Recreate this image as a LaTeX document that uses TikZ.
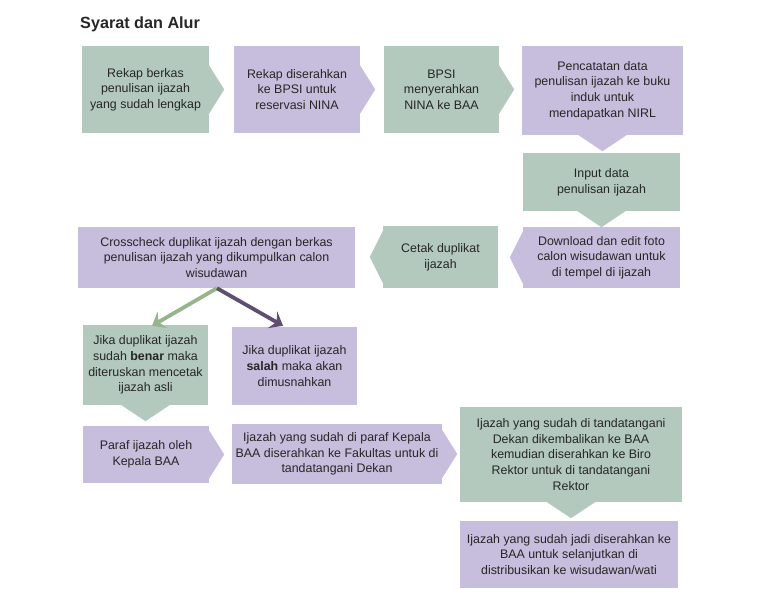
\documentclass[tikz,border=0pt]{standalone}
\usepackage{fontspec}
\setmainfont{Liberation Sans}
\usetikzlibrary{arrows.meta,calc}
\definecolor{gbox}{RGB}{179,201,190}
\definecolor{pbox}{RGB}{199,189,221}
\definecolor{garrow}{RGB}{150,181,140}
\definecolor{parrow}{RGB}{95,78,112}
\definecolor{txt}{RGB}{38,38,38}
\tikzset{
  flowbox/.style={rectangle, inner sep=0pt, align=center, text=txt,
    font=\fontsize{12.4}{15.6}\selectfont},
  gstep/.style={flowbox, fill=gbox},
  pstep/.style={flowbox, fill=pbox},
  flowarrow/.style={line width=3.8pt, -{Stealth[length=12pt,width=19pt,inset=4.5pt]}},
}
\newcommand{\chevR}[2]{\fill[#2] ($(#1.east)+(0,-24)$) -- ($(#1.east)+(15,0)$) -- ($(#1.east)+(0,24)$) -- cycle;}
\newcommand{\chevL}[2]{\fill[#2] ($(#1.west)+(0,-26)$) -- ($(#1.west)+(-13,0)$) -- ($(#1.west)+(0,26)$) -- cycle;}
\newcommand{\chevD}[2]{\fill[#2] ($(#1.south)+(-24,0)$) -- ($(#1.south)+(0,16)$) -- ($(#1.south)+(24,0)$) -- cycle;}
\begin{document}
\begin{tikzpicture}[x=1pt,y=-1pt]
\useasboundingbox[fill=white] (0,0) rectangle (757,600);
\node[anchor=base west, inner sep=0pt, text=txt, font=\bfseries\fontsize{16.2}{19}\selectfont] (title) at (80,28) {Syarat dan Alur};

\node[gstep, minimum width=127pt, minimum height=87pt] (b1) at (145.5,89.5) {Rekap berkas\\penulisan ijazah\\yang sudah lengkap};
\node[pstep, minimum width=126pt, minimum height=87pt] (b2) at (297,89.5) {Rekap diserahkan\\ke BPSI untuk\\reservasi NINA};
\node[gstep, minimum width=115pt, minimum height=87pt] (b3) at (441.5,89.5) {BPSI\\menyerahkan\\NINA ke BAA};
\node[pstep, minimum width=161pt, minimum height=89pt] (b4) at (602.5,90.5) {Pencatatan data\\penulisan ijazah ke buku\\induk untuk\\mendapatkan NIRL};
\node[gstep, minimum width=157pt, minimum height=58pt] (b5) at (601.5,182) {Input data\\penulisan ijazah};
\node[pstep, minimum width=157pt, minimum height=61pt] (b6) at (601.5,257.5) {Download dan edit foto\\calon wisudawan untuk\\di tempel di ijazah};
\node[gstep, minimum width=115pt, minimum height=62pt] (b7) at (440.5,257) {Cetak duplikat\\ijazah};
\node[pstep, minimum width=277pt, minimum height=61pt] (b8) at (216.5,257.5) {Crosscheck duplikat ijazah dengan berkas\\penulisan ijazah yang dikumpulkan calon\\wisudawan};
\node[gstep, minimum width=125pt, minimum height=80pt] (b9) at (145.5,365) {Jika duplikat ijazah\\sudah \textbf{benar} maka\\diteruskan mencetak\\ijazah asli};
\node[pstep, minimum width=125pt, minimum height=78pt] (b10) at (294.5,366) {Jika duplikat ijazah\\\textbf{salah} maka akan\\dimusnahkan};
\node[pstep, minimum width=126pt, minimum height=57pt] (b11) at (146,454.5) {Paraf ijazah oleh\\Kepala BAA};
\node[pstep, minimum width=210pt, minimum height=60pt] (b12) at (337,454) {Ijazah yang sudah di paraf Kepala\\BAA diserahkan ke Fakultas untuk di\\tandatangani Dekan};
\node[gstep, minimum width=222pt, minimum height=95pt] (b13) at (571,454.5) {Ijazah yang sudah di tandatangani\\Dekan dikembalikan ke BAA\\kemudian diserahkan ke Biro\\Rektor untuk di tandatangani\\Rektor};
\node[pstep, minimum width=218pt, minimum height=67pt] (b14) at (569,554.5) {Ijazah yang sudah jadi diserahkan ke\\BAA untuk selanjutkan di\\distribusikan ke wisudawan/wati};

\chevR{b1}{gbox}
\chevR{b2}{pbox}
\chevR{b3}{gbox}
\chevD{b4}{pbox}
\chevD{b5}{gbox}
\chevL{b6}{pbox}
\chevL{b7}{gbox}
\chevD{b9}{gbox}
\chevR{b11}{pbox}
\chevR{b12}{pbox}
\chevD{b13}{gbox}

\coordinate (split) at ($(b8.south)+(0.5,0)$);
\draw[flowarrow, garrow] (split) -- ($(b9.north)+(6.5,1)$);
\draw[flowarrow, parrow] (split) -- ($(b10.north)+(-11.5,-1)$);
\end{tikzpicture}
\end{document}
